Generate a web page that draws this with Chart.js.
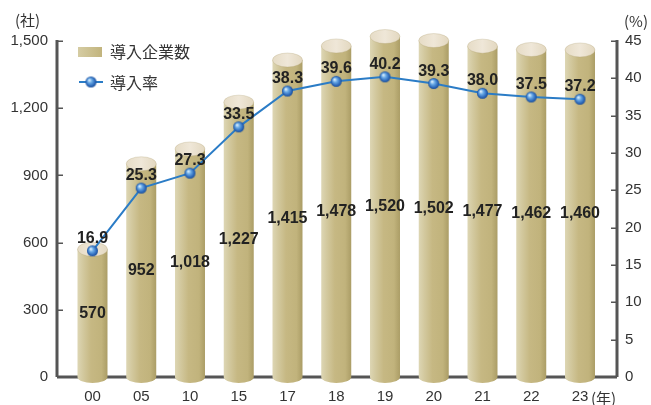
<!DOCTYPE html>
<html>
<head>
<meta charset="utf-8">
<script src="https://cdn.jsdelivr.net/npm/chart.js@4"></script>
<style>
	html, body { margin:0; padding:0; background:#fff; }
	#wrap { width:651px; height:405px; }
</style>
</head>
<body>
<div id="wrap"><canvas id="chart" width="651" height="405"></canvas></div>
<script>
// data
const years = ['00','05','10','15','17','18','19','20','21','22','23'];
const companies = [570, 952, 1018, 1227, 1415, 1478, 1520, 1502, 1477, 1462, 1460];
const rate = [16.9, 25.3, 27.3, 33.5, 38.3, 39.6, 40.2, 39.3, 38.0, 37.5, 37.2];
const leftTicks = [0, 300, 600, 900, 1200, 1500];
const rightTicks = [0, 5, 10, 15, 20, 25, 30, 35, 40, 45];

const numFont = "'Liberation Sans', Arial, sans-serif";
const jpFont = "'Noto Sans CJK JP', sans-serif";
const lineColor = '#2b7cc6';

// blue sphere marker
function makeSphere(r){
	let c = document.createElement('canvas');
	c.width = r*2+2; c.height = r*2+2;
	let g = c.getContext('2d');
	let cx = r+1, cy = r+1;
	let grad = g.createRadialGradient(cx-1.8, cy-2, 0.5, cx, cy, r);
	grad.addColorStop(0, '#d8ecfc');
	grad.addColorStop(0.35, '#69aae6');
	grad.addColorStop(0.8, '#2a66b8');
	grad.addColorStop(1, '#1d4f96');
	g.fillStyle = grad;
	g.beginPath(); g.arc(cx, cy, r, 0, Math.PI*2); g.fill();
	return c;
}
const sphere = makeSphere(5.5);

function drawCylinder(ctx, x, top, base, w){
	let rx = w/2, ry = 7;
	let grad = ctx.createLinearGradient(x-rx, 0, x+rx, 0);
	grad.addColorStop(0, '#ddd6b4');
	grad.addColorStop(0.18, '#d3c99f');
	grad.addColorStop(0.45, '#c6b883');
	grad.addColorStop(0.8, '#c1b37c');
	grad.addColorStop(1, '#ab9d66');
	ctx.fillStyle = grad;
	ctx.beginPath();
	ctx.moveTo(x-rx, top);
	ctx.lineTo(x-rx, base);
	ctx.ellipse(x, base, rx, ry - 1, 0, Math.PI, 0, true);
	ctx.lineTo(x+rx, top);
	ctx.closePath();
	ctx.fill();
	// top cap
	let tg = ctx.createLinearGradient(x-rx, 0, x+rx, 0);
	tg.addColorStop(0, '#e6dcc6');
	tg.addColorStop(0.5, '#efe7d8');
	tg.addColorStop(1, '#e3d8c0');
	ctx.fillStyle = tg;
	ctx.beginPath();
	ctx.ellipse(x, top, rx, ry, 0, 0, Math.PI*2);
	ctx.fill();
	ctx.strokeStyle = 'rgba(170,155,110,0.35)';
	ctx.lineWidth = 0.8;
	ctx.stroke();
}

const cylinders = {
	id: 'cylinders',
	beforeDatasetsDraw(chart){
		const ctx = chart.ctx;
		const area = chart.chartArea;
		const yL = chart.scales.y, yR = chart.scales.y1;
		ctx.save();
		// axes
		ctx.strokeStyle = '#555';
		ctx.lineWidth = 3;
		ctx.beginPath();
		ctx.moveTo(area.left, area.bottom);
		ctx.lineTo(area.right, area.bottom);
		ctx.stroke();
		ctx.beginPath();
		ctx.moveTo(area.left, area.top-1);
		ctx.lineTo(area.left, area.bottom);
		ctx.moveTo(area.right, area.top-1);
		ctx.lineTo(area.right, area.bottom);
		ctx.stroke();
		ctx.lineWidth = 1.5;
		ctx.beginPath();
		for (const t of leftTicks){
			let py = Math.round(yL.getPixelForValue(t)) + 0.25;
			ctx.moveTo(area.left, py); ctx.lineTo(area.left+6, py);
		}
		for (const t of rightTicks){
			let py = Math.round(yR.getPixelForValue(t)) + 0.25;
			ctx.moveTo(area.right, py); ctx.lineTo(area.right-6, py);
		}
		ctx.stroke();
		// bars as cylinders
		const meta = chart.getDatasetMeta(0);
		for (const bar of meta.data){
			drawCylinder(ctx, bar.x, bar.y, bar.base, bar.width);
		}
		ctx.restore();
	},
	afterDatasetsDraw(chart){
		const ctx = chart.ctx;
		ctx.save();
		ctx.fillStyle = '#222';
		ctx.font = 'bold 16px ' + numFont;
		ctx.textAlign = 'center';
		const bars = chart.getDatasetMeta(0).data;
		ctx.textBaseline = 'middle';
		bars.forEach((b, i) => {
			ctx.fillText(companies[i].toLocaleString('en-US'), b.x, (b.y + b.base)/2);
		});
		const pts = chart.getDatasetMeta(1).data;
		ctx.textBaseline = 'alphabetic';
		pts.forEach((p, i) => {
			ctx.fillText(rate[i].toFixed(1), p.x, p.y - 8);
		});

		// legend
		let lg = ctx.createLinearGradient(78, 0, 102, 0);
		lg.addColorStop(0, '#d5cca3');
		lg.addColorStop(1, '#c2b47d');
		ctx.fillStyle = lg;
		ctx.fillRect(78, 47, 24, 10);
		ctx.strokeStyle = lineColor;
		ctx.lineWidth = 2;
		ctx.beginPath(); ctx.moveTo(79, 82); ctx.lineTo(103, 82); ctx.stroke();
		ctx.drawImage(sphere, 91 - sphere.width/2, 82 - sphere.height/2);
		ctx.fillStyle = '#333';
		ctx.textAlign = 'left';
		ctx.textBaseline = 'middle';
		ctx.font = '16px ' + jpFont;
		ctx.fillText('導入企業数', 110, 52);
		ctx.fillText('導入率', 110, 83);

		// units
		ctx.font = '15px ' + jpFont;
		ctx.fillText('(社)', 15, 20);
		ctx.fillText('(%)', 624, 21);
		ctx.fillText('(年)', 591, 398);
		ctx.restore();
	}
};

new Chart(document.getElementById('chart'), {
	type: 'bar',
	data: {
		datasets: [
			{
				type: 'bar',
				label: '導入企業数',
				data: companies.map((v, i) => ({x: i, y: v})),
				yAxisID: 'y',
				backgroundColor: 'rgba(0,0,0,0)',
				barThickness: 30,
				order: 2
			},
			{
				type: 'line',
				label: '導入率',
				data: rate.map((v, i) => ({x: i, y: v})),
				yAxisID: 'y1',
				borderColor: lineColor,
				borderWidth: 2,
				pointStyle: sphere,
				pointRadius: 5.5,
				tension: 0,
				order: 1
			}
		]
	},
	options: {
		responsive: false,
		animation: false,
		events: [],
		layout: { padding: { top: 41, left: 0, right: 0, bottom: 0 } },
		plugins: { legend: { display: false }, tooltip: { enabled: false } },
		scales: {
			x: {
				type: 'linear',
				offset: false,
				min: -0.728,
				max: 10.759,
				grid: { display: false, drawTicks: false, offset: false },
				border: { display: false },
				afterBuildTicks: s => { s.ticks = years.map((_, i) => ({value: i})); },
				afterFit: s => { s.height = 28; },
				ticks: {
					autoSkip: false,
					maxRotation: 0,
					padding: 11,
					color: '#333',
					font: { family: numFont, size: 15 },
					callback: v => years[v]
				}
			},
			y: {
				position: 'left',
				min: 0,
				max: 1500,
				grid: { display: false, drawTicks: false },
				border: { display: false },
				afterBuildTicks: s => { s.ticks = leftTicks.map(v => ({value: v})); },
				afterFit: s => { s.width = 57; },
				ticks: {
					padding: 9,
					color: '#333',
					font: { family: numFont, size: 15 },
					callback: v => v.toLocaleString('en-US')
				}
			},
			y1: {
				position: 'right',
				min: 0,
				max: 45,
				grid: { display: false, drawTicks: false },
				border: { display: false },
				afterBuildTicks: s => { s.ticks = rightTicks.map(v => ({value: v})); },
				afterFit: s => { s.width = 34; },
				ticks: {
					padding: 8,
					color: '#333',
					font: { family: numFont, size: 15 }
				}
			}
		}
	},
	plugins: [cylinders]
});
</script>
</body>
</html>
